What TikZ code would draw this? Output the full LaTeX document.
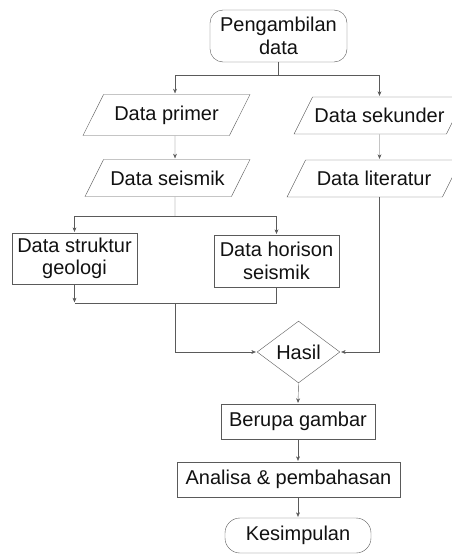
\documentclass[tikz,border=0pt]{standalone}
\usepackage{fontspec}
\setmainfont{Liberation Sans}
\usetikzlibrary{shapes.geometric,arrows.meta}
\definecolor{linegray}{HTML}{5A5A5A}
\definecolor{textgray}{HTML}{111111}
\begin{document}
\begin{tikzpicture}[x=1pt,y=-1pt]
\tikzset{ >={Stealth[length=6pt,width=5pt]}, line width=0.9pt,
  every node/.style={draw=linegray, text=textgray, inner sep=0pt, align=center,
    font=\fontsize{20}{22.5}\selectfont},
  proc/.style={rectangle},
  term/.style={rectangle, rounded corners=13pt},
  io/.style={trapezium, trapezium left angle=63.4, trapezium right angle=116.6,
    trapezium stretches body, inner ysep=11.2pt},
  decide/.style={diamond, aspect=1.34, minimum width=83pt, minimum height=62pt},
  conn/.style={draw=linegray},
}
\useasboundingbox (0,0) rectangle (451,554);

\node [term, minimum width=137pt, minimum height=52pt] (start) at (278.5,36) {Pengambilan\\data};

\node [io, minimum width=167pt] (prim) at (166.5,115) {Data primer};
\node [io, minimum width=165pt] (seis) at (167.5,178) {Data seismik};
\node [io, minimum width=171pt] (sek)  at (379.5,115.5) {Data sekunder};
\node [io, minimum width=174pt] (lit)  at (374,178.5) {Data literatur};

\node [proc, minimum width=125pt, minimum height=51pt] (struk) at (74.5,258.5) {Data struktur\\geologi};
\node [proc, minimum width=125pt, minimum height=52pt] (horis) at (276.5,261) {Data horison\\seismik};

\node [decide] (hasil) at (298.5,352) {Hasil};

\node [proc, minimum width=154pt, minimum height=35pt] (berupa)  at (298,421.5) {Berupa gambar};
\node [proc, minimum width=223pt, minimum height=35pt] (analisa) at (288.5,479.5) {Analisa \& pembahasan};
\node [term, rounded corners=15pt, minimum width=146pt, minimum height=35pt] (kes) at (298,535.5) {Kesimpulan};

\coordinate (J1) at (278.5,75);
\coordinate (J2) at (175,216);
\coordinate (J3) at (175,303);

\draw [conn]     (start) -- (J1);
\draw [conn, ->] (J1) -| ([xshift=8.5pt]prim.north);
\draw [conn, ->] (J1) -| (sek.north);
\draw [conn, ->] ([xshift=8.5pt]prim.south) -- ([xshift=7.5pt]seis.north);
\draw [conn, ->] (sek.south) -- ([xshift=5.5pt]lit.north);

\draw [conn]     ([xshift=7.5pt]seis.south) -- (J2);
\draw [conn, ->] (J2) -| (struk.north);
\draw [conn, ->] (J2) -| (horis.north);

\draw [conn, ->] (struk.south) -- (struk.south |- J3);
\draw [conn]     (horis.south) -- (horis.south |- J3) -- (struk.south |- J3);
\draw [conn, ->] (J3) |- (hasil.west);
\draw [conn, ->] ([xshift=5.5pt]lit.south) |- (hasil.east);

\draw [conn, ->] (hasil.south) -- (berupa.north);
\draw [conn, ->] (berupa.south) -- (berupa.south |- analisa.north);
\draw [conn, ->] (berupa.south |- analisa.south) -- (kes.north);

\end{tikzpicture}
\end{document}
